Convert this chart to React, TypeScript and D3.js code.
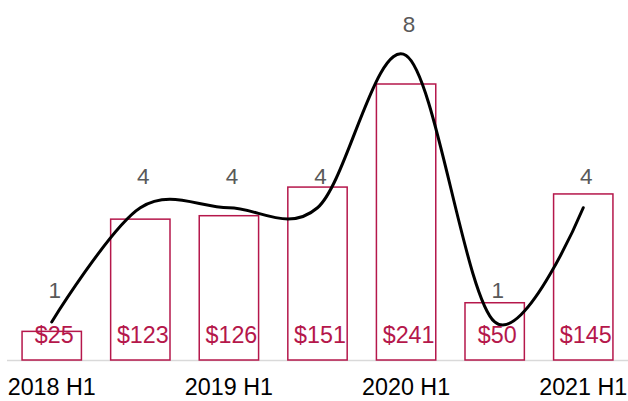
import * as d3 from "d3";

const periods = ["2018 H1", "2018 H2", "2019 H1", "2019 H2", "2020 H1", "2020 H2", "2021 H1"];
const amounts = [25, 123, 126, 151, 241, 50, 145];
const counts = [1, 4, 4, 4, 8, 1, 4];
const tickLabels = ["2018 H1", "2019 H1", "2020 H1", "2021 H1"];

const crimson = "#b5174b";

export default function App() {
  const width = 628;
  const height = 401;
  const baseY = 360;

  const x = d3.scaleBand<string>().domain(periods).range([7, 628]).paddingInner(0.33).paddingOuter(0.17);
  const y = d3.scaleLinear().domain([0, 241]).range([baseY, 84]);
  const yCount = d3.scaleLinear().domain([0, 8]).range([360, 55.5]);

  const line = d3
    .line<number>()
    .x((_, i) => (x(periods[i]) ?? 0) + x.bandwidth() / 2)
    .y((d) => yCount(d))
    .curve(d3.curveCardinal.tension(0));

  const font = "'Liberation Sans', Arial, sans-serif";

  return (
    <svg width={width} height={height} style={{ position: "absolute", left: 0, top: 0 }}>
      <line x1={7} x2={628} y1={baseY + 0.5} y2={baseY + 0.5} stroke="#d9d9d9" strokeWidth={1.5} />
      {amounts.map((v, i) => {
        const bx = x(periods[i]) ?? 0;
        return (
          <rect
            key={periods[i]}
            x={bx}
            y={y(v)}
            width={x.bandwidth()}
            height={baseY - y(v)}
            fill="#ffffff"
            stroke={crimson}
            strokeWidth={1.5}
          />
        );
      })}
      <path d={line(counts) ?? ""} fill="none" stroke="#000000" strokeWidth={3} strokeLinecap="round" />
      {amounts.map((v, i) => (
        <text
          key={`amt-${i}`}
          x={(x(periods[i]) ?? 0) + x.bandwidth() / 2 + 2.5}
          y={343}
          textAnchor="middle"
          fontFamily={font}
          fontSize={23.3}
          fill={crimson}
        >
          {`$${v}`}
        </text>
      ))}
      {counts.map((c, i) => (
        <text
          key={`cnt-${i}`}
          x={(x(periods[i]) ?? 0) + x.bandwidth() / 2 + 3}
          y={yCount(c) - 24}
          textAnchor="middle"
          fontFamily={font}
          fontSize={22.5}
          fill="#595959"
        >
          {c}
        </text>
      ))}
      {tickLabels.map((t) => (
        <text
          key={t}
          x={(x(t) ?? 0) + x.bandwidth() / 2}
          y={395}
          textAnchor="middle"
          fontFamily={font}
          fontSize={23.3}
          fill="#000000"
        >
          {t}
        </text>
      ))}
    </svg>
  );
}
